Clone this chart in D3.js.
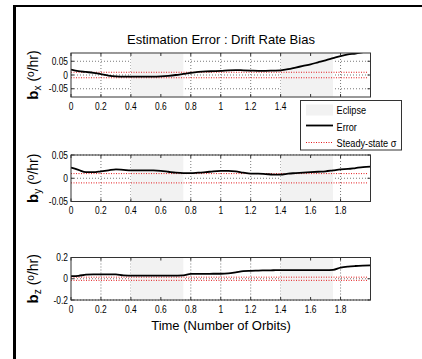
<!DOCTYPE html>
<html>
<head>
<meta charset="utf-8">
<script src="https://cdn.jsdelivr.net/npm/d3@7"></script>
<style>
  body { margin: 0; background: #fff; }
  svg { display: block; }
  text { font-family: "Liberation Sans", Arial, sans-serif; fill: #000; }
</style>
</head>
<body>
<div id="container"></div>
<script>
// time axis (orbits) and estimated drift-rate bias errors
const times = [0, 0.05, 0.1, 0.15, 0.2, 0.25, 0.3, 0.35, 0.4, 0.45, 0.5, 0.55, 0.6, 0.65, 0.7, 0.75,
    0.8, 0.85, 0.9, 0.95, 1.0, 1.05, 1.1, 1.15, 1.2, 1.25, 1.3, 1.35, 1.4, 1.45, 1.5, 1.55,
    1.6, 1.65, 1.7, 1.75, 1.8, 1.85, 1.9, 1.95, 2.0];

const bxError = [0.020, 0.014, 0.011, 0.008, 0.003, -0.002, -0.005, -0.006, -0.006, -0.006, -0.006,
    -0.006, -0.005, -0.003, 0.000, 0.004, 0.008, 0.011, 0.013, 0.014, 0.015, 0.017, 0.018, 0.017,
    0.016, 0.015, 0.015, 0.016, 0.017, 0.021, 0.027, 0.033, 0.039, 0.046, 0.053, 0.061, 0.069,
    0.075, 0.078, 0.083, 0.088];

const byError = [0.023, 0.018, 0.013, 0.013, 0.015, 0.017, 0.019, 0.018, 0.017, 0.017, 0.017,
    0.017, 0.016, 0.014, 0.012, 0.011, 0.011, 0.012, 0.013, 0.015, 0.016, 0.016, 0.015, 0.012,
    0.010, 0.010, 0.009, 0.008, 0.008, 0.010, 0.011, 0.012, 0.013, 0.014, 0.015, 0.017, 0.019,
    0.020, 0.022, 0.024, 0.025];

const bzError = [0.025, 0.028, 0.038, 0.041, 0.041, 0.041, 0.041, 0.031, 0.030, 0.029, 0.029,
    0.029, 0.029, 0.029, 0.030, 0.032, 0.045, 0.046, 0.046, 0.047, 0.047, 0.050, 0.060, 0.072,
    0.075, 0.077, 0.079, 0.080, 0.081, 0.081, 0.081, 0.081, 0.081, 0.081, 0.081, 0.084, 0.105,
    0.115, 0.120, 0.123, 0.125];

const sigmas = [0.01, 0.01, 0.015];   // steady-state sigma per axis
const eclipses = [[0.4, 0.75], [1.4, 1.75]];

const xTicks = [0, 0.2, 0.4, 0.6, 0.8, 1, 1.2, 1.4, 1.6, 1.8];
const xTickLabels = ["0", "0.2", "0.4", "0.6", "0.8", "1", "1.2", "1.4", "1.6", "1.8"];

const axisNames = ["x", "y", "z"];
const yDomains = [[-0.08, 0.08], [-0.05, 0.05], [-0.2, 0.2]];
const yTicks = [[-0.05, 0, 0.05], [-0.05, 0, 0.05], [-0.2, 0, 0.2]];
const yTickLabels = [["-0.05", "0", "0.05"], ["-0.05", "0", "0.05"], ["-0.2", "0", "0.2"]];
const errors = [bxError, byError, bzError];

const width = 422, height = 359;
const panelTops = [53, 155, 257.5];
const panelBottoms = [97, 201.5, 300];
const left = 71, right = 370.5;
const narrow = 0.8;   // squeeze small labels like the original's condensed font

const svg = d3.select("#container").append("svg")
    .attr("width", width)
    .attr("height", height);

// frame edges
svg.append("rect").attr("x", 13).attr("y", 5).attr("width", 3).attr("height", height - 5).attr("fill", "#000");
svg.append("rect").attr("x", 13).attr("y", 5).attr("width", width - 13).attr("height", 2).attr("fill", "#000");

const x = d3.scaleLinear().domain([0, 2]).range([left, right]);

svg.append("text")
    .attr("x", 221).attr("y", 44)
    .attr("text-anchor", "middle")
    .style("font-size", "13px")
    .text("Estimation Error : Drift Rate Bias");

axisNames.forEach((name, i) => {
    const top = panelTops[i], bottom = panelBottoms[i];
    const y = d3.scaleLinear().domain(yDomains[i]).range([bottom, top]);
    const g = svg.append("g");

    const clipId = "clip" + i;
    g.append("clipPath").attr("id", clipId)
        .append("rect").attr("x", left).attr("y", top).attr("width", right - left).attr("height", bottom - top);

    // grid
    g.selectAll(".vgrid").data(xTicks.slice(1)).enter().append("line")
        .attr("x1", d => x(d)).attr("x2", d => x(d))
        .attr("y1", top).attr("y2", bottom)
        .attr("stroke", "#555").attr("stroke-width", 0.8).attr("stroke-dasharray", "1,2");
    g.selectAll(".hgrid").data(yTicks[i]).enter().append("line")
        .attr("x1", left).attr("x2", right)
        .attr("y1", d => y(d)).attr("y2", d => y(d))
        .attr("stroke", "#555").attr("stroke-width", 0.8).attr("stroke-dasharray", "1,2");

    // eclipse shading
    g.selectAll(".ecl").data(eclipses).enter().append("rect")
        .attr("x", d => x(d[0])).attr("width", d => x(d[1]) - x(d[0]))
        .attr("y", top + 0.5).attr("height", bottom - top - 1)
        .attr("fill", "#f2f2f2");

    // steady-state sigma
    g.selectAll(".sig").data([sigmas[i], -sigmas[i]]).enter().append("line")
        .attr("x1", left).attr("x2", right - 2)
        .attr("y1", d => y(d)).attr("y2", d => y(d))
        .attr("stroke", "#e41a1c").attr("stroke-width", 1).attr("stroke-dasharray", "1,1.5");

    // error curve
    const line = d3.line().x(d => x(d[0])).y(d => y(d[1])).curve(d3.curveMonotoneX);
    g.append("path")
        .datum(times.map((t, k) => [t, errors[i][k]]))
        .attr("clip-path", `url(#${clipId})`)
        .attr("d", line)
        .attr("fill", "none").attr("stroke", "#000").attr("stroke-width", 1.8);

    // box and inside ticks
    g.append("rect").attr("x", left).attr("y", top).attr("width", right - left).attr("height", bottom - top)
        .attr("fill", "none").attr("stroke", "#333").attr("stroke-width", 1);
    g.selectAll(".xt").data(xTicks).enter().append("path")
        .attr("d", d => `M${x(d)},${bottom}v-3M${x(d)},${top}v3`)
        .attr("stroke", "#333");
    g.selectAll(".yt").data(yTicks[i]).enter().append("path")
        .attr("d", d => `M${left},${y(d)}h3M${right},${y(d)}h-3`)
        .attr("stroke", "#333");

    // tick labels (condensed)
    g.selectAll(".xl").data(xTicks).enter().append("text")
        .attr("transform", d => `translate(${x(d)},${bottom + 12.5}) scale(${narrow},1)`)
        .attr("text-anchor", "middle")
        .style("font-size", "10.5px")
        .text((d, k) => xTickLabels[k]);
    g.selectAll(".yl").data(yTicks[i]).enter().append("text")
        .attr("transform", d => `translate(${left - 3},${y(d) + 3.5}) scale(${narrow},1)`)
        .attr("text-anchor", "end")
        .style("font-size", "10.5px")
        .text((d, k) => yTickLabels[i][k]);

    // y label: b_axis (°/hr)
    const lab = g.append("text")
        .attr("transform", `translate(38,${(top + bottom) / 2}) rotate(-90)`)
        .attr("text-anchor", "middle")
        .style("font-size", "14px");
    lab.append("tspan").style("font-weight", "bold").style("font-size", "15px").text("b");
    lab.append("tspan").attr("dy", 3).style("font-size", "10px").text(name);
    lab.append("tspan").attr("dy", -3).text(" (");
    lab.append("tspan").attr("dy", -4).style("font-size", "10px").text("o");
    lab.append("tspan").attr("dy", 4).text("/hr)");
});

svg.append("text")
    .attr("x", 221).attr("y", 330)
    .attr("text-anchor", "middle")
    .style("font-size", "13px")
    .text("Time (Number of Orbits)");

// legend
const lg = svg.append("g").attr("transform", "translate(300.5,100.5)");
lg.append("rect").attr("width", 101).attr("height", 49.5)
    .attr("fill", "#fff").attr("stroke", "#333");
lg.append("rect").attr("x", 5.5).attr("y", 4).attr("width", 27).attr("height", 11).attr("fill", "#f2f2f2");
lg.append("line").attr("x1", 5.5).attr("x2", 32.5).attr("y1", 25).attr("y2", 25)
    .attr("stroke", "#000").attr("stroke-width", 1.8);
lg.append("line").attr("x1", 5.5).attr("x2", 32.5).attr("y1", 42).attr("y2", 42)
    .attr("stroke", "#e41a1c").attr("stroke-width", 1).attr("stroke-dasharray", "1,1.5");
const legendLabels = ["Eclipse", "Error", "Steady-state σ"];
lg.selectAll(".lt").data(legendLabels).enter().append("text")
    .attr("transform", (d, k) => `translate(36,${13.5 + k * 16.5}) scale(${narrow},1)`)
    .style("font-size", "11.5px")
    .text(d => d);
</script>
</body>
</html>
